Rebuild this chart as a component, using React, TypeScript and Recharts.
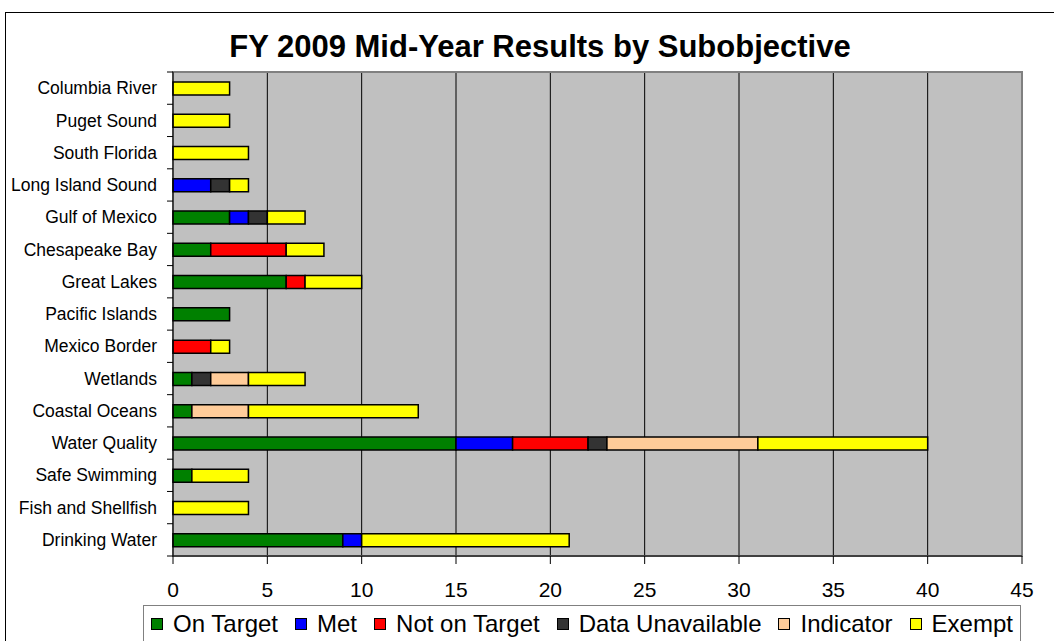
import { BarChart, Bar, XAxis, YAxis, CartesianGrid, ReferenceArea } from "recharts";

// values (top row first)
const categories = [
  "Columbia River",
  "Puget Sound",
  "South Florida",
  "Long Island Sound",
  "Gulf of Mexico",
  "Chesapeake Bay",
  "Great Lakes",
  "Pacific Islands",
  "Mexico Border",
  "Wetlands",
  "Coastal Oceans",
  "Water Quality",
  "Safe Swimming",
  "Fish and Shellfish",
  "Drinking Water",
];
const onTarget = [0, 0, 0, 0, 3, 2, 6, 3, 0, 1, 1, 15, 1, 0, 9];
const met = [0, 0, 0, 2, 1, 0, 0, 0, 0, 0, 0, 3, 0, 0, 1];
const notOnTarget = [0, 0, 0, 0, 0, 4, 1, 0, 2, 0, 0, 4, 0, 0, 0];
const dataUnavailable = [0, 0, 0, 1, 1, 0, 0, 0, 0, 1, 0, 1, 0, 0, 0];
const indicator = [0, 0, 0, 0, 0, 0, 0, 0, 0, 2, 3, 8, 0, 0, 0];
const exempt = [3, 3, 4, 1, 2, 2, 3, 0, 1, 3, 9, 9, 3, 4, 11];
const xTicks = [0, 5, 10, 15, 20, 25, 30, 35, 40, 45];

const series = [
  { key: "onTarget", name: "On Target", color: "#008000" },
  { key: "met", name: "Met", color: "#0000FF" },
  { key: "notOnTarget", name: "Not on Target", color: "#FF0000" },
  { key: "dataUnavailable", name: "Data Unavailable", color: "#333333" },
  { key: "indicator", name: "Indicator", color: "#FFCC99" },
  { key: "exempt", name: "Exempt", color: "#FFFF00" },
];

const data = categories.map((name, i) => ({
  name,
  onTarget: onTarget[i],
  met: met[i],
  notOnTarget: notOnTarget[i],
  dataUnavailable: dataUnavailable[i],
  indicator: indicator[i],
  exempt: exempt[i],
}));

const FONT = "Arial, 'Liberation Sans', sans-serif";
const LABEL_GAP = 16;

// category label plus the small tick marks that sit between categories
const CategoryTick = (props: any) => {
  const { x, y, payload, index, visibleTicksCount } = props;
  const half = payload.offset ?? 16;
  const axisX = x + LABEL_GAP;
  return (
    <g>
      <line x1={axisX - 6} x2={axisX} y1={y - half} y2={y - half} stroke="#000" />
      {index === visibleTicksCount - 1 && (
        <line x1={axisX - 6} x2={axisX} y1={y + half} y2={y + half} stroke="#000" />
      )}
      <text x={x} y={y} dy="0.35em" textAnchor="end" fontSize={17.5} fill="#000" fontFamily={FONT}>
        {payload.value}
      </text>
    </g>
  );
};

export default function App() {
  return (
    <div style={{ position: "absolute", left: 0, top: 0, width: 1054, height: 641, overflow: "hidden", background: "#fff", fontFamily: FONT }}>
      <div style={{ position: "absolute", left: 5, top: 12, width: 1080, height: 660, border: "1px solid #000" }} />
      <div
        style={{
          position: "absolute",
          left: 0,
          width: 1080,
          top: 29,
          textAlign: "center",
          fontSize: 31,
          fontWeight: "bold",
          lineHeight: "36px",
          color: "#000",
        }}
      >
        FY 2009 Mid-Year Results by Subobjective
      </div>
      <div style={{ position: "absolute", left: 0, top: 0 }}>
        <BarChart
          width={1054}
          height={641}
          data={data}
          layout="vertical"
          margin={{ top: 72, right: 32, bottom: 0, left: 0 }}
          barCategoryGap={0}
        >
          <CartesianGrid horizontal={false} stroke="#000" fill="#C0C0C0" />
          <ReferenceArea x1={0} x2={45} stroke="#808080" strokeWidth={2} fill="none" fillOpacity={0} />
          <XAxis
            type="number"
            domain={[0, 45]}
            ticks={xTicks}
            interval={0}
            height={85}
            tickSize={8}
            tickMargin={18}
            axisLine={{ stroke: "#000" }}
            tickLine={{ stroke: "#000" }}
            tick={{ fill: "#000", fontSize: 21, fontFamily: FONT }}
          />
          <YAxis
            type="category"
            dataKey="name"
            width={173}
            interval={0}
            tickSize={0}
            tickMargin={LABEL_GAP}
            axisLine={{ stroke: "#000" }}
            tickLine={false}
            tick={<CategoryTick />}
          />
          {series.map((s) => (
            <Bar
              key={s.key}
              dataKey={s.key}
              name={s.name}
              stackId="a"
              fill={s.color}
              stroke="#000"
              strokeWidth={1.5}
              barSize={13}
              isAnimationActive={false}
            />
          ))}
        </BarChart>
      </div>
      <div
        style={{
          position: "absolute",
          left: 143,
          top: 605,
          width: 878,
          height: 50,
          border: "1px solid #808080",
          boxSizing: "border-box",
          display: "flex",
          justifyContent: "center",
          alignItems: "flex-start",
          paddingTop: 5,
          fontSize: 24,
          color: "#000",
          whiteSpace: "nowrap",
        }}
      >
        {series.map((s, i) => (
          <div key={s.key} style={{ display: "flex", alignItems: "center", marginLeft: i === 0 ? 0 : 17, lineHeight: "26px" }}>
            <span style={{ display: "inline-block", width: 10, height: 10, background: s.color, border: "1.5px solid #000", marginRight: 10 }} />
            <span>{s.name}</span>
          </div>
        ))}
      </div>
    </div>
  );
}
